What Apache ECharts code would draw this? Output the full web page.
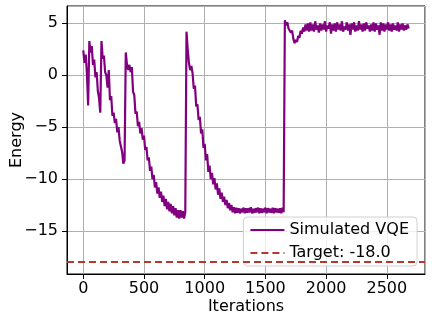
<!DOCTYPE html>
<html>
<head>
    <meta charset="utf-8">
    <title>VQE energy</title>
    <script src="https://cdn.jsdelivr.net/npm/echarts@6/dist/echarts.min.js"></script>
    <style>
        body { margin: 0; background: #fff; }
    </style>
</head>
<body>
<div id="main" style="width: 432px;height:322px;"></div>
<script type="text/javascript">
    // one value every ITER_STEP iterations, each run restarts after a jump
    var ITER_STEP = 10;
    var run1 = [2.4, 1.2, 2.0, 0.2, -2.9];
    var run2 = [3.3, 2.2, 2.8, 1.0, 1.5, -0.2, 0.3, -1.5, -2.2, -3.6];
    var run3 = [3.3, 1.6, 1.9, 0.3, 0.0, -1.2, 0.5, -2.4, -2.0, -3.9,
        -3.6, -4.6, -4.2, -5.5, -5.0, -6.3, -6.2, -7.4, -8.5, -8.2];
    var run4 = [2.2, 1.0, 0.5, 1.0, 0.3, 0.8, -1.6, -1.9, -3.7, -3.5,
        -4.9, -4.5, -5.6, -5.1, -6.2, -5.8, -7.2, -6.9, -8.2, -7.9,
        -9.2, -8.8, -10.0, -9.6, -10.8, -10.3, -11.4, -10.8, -11.8, -11.2,
        -12.2, -11.6, -12.6, -11.9, -12.9, -12.2, -13.1, -12.4, -13.3, -12.6,
        -13.5, -12.8, -13.7, -13.0, -13.8, -13.0, -13.7, -13.1, -13.8, -13.2];
    var run5 = [4.2, 2.5, 1.2, 0.5, 0.9, 0.2, -1.3, -1.0, -3.0, -2.8,
        -4.3, -4.0, -5.6, -5.2, -7.0, -6.6, -8.2, -7.6, -9.3, -8.7,
        -10.0, -9.4, -10.5, -9.9, -11.0, -10.4, -11.5, -10.9, -11.9, -11.3,
        -12.2, -11.7, -12.5, -12.0, -12.8, -12.3, -13.0, -12.5, -13.2, -12.7,
        -13.3, -12.75, -13.25, -12.8, -13.3, -12.85, -13.2, -12.75, -13.3, -12.8,
        -13.25, -12.8, -13.2, -12.7, -13.3, -12.85, -13.25, -12.8, -13.2, -12.75,
        -13.3, -12.8, -13.25, -12.85, -13.2, -12.75, -13.3, -12.8, -13.2, -12.85,
        -13.25, -12.75, -13.3, -12.8, -13.2, -12.85, -13.25, -12.8, -13.3, -12.75, -13.2];
    var run6 = [5.3, 4.8, 5.1, 4.5, 4.6, 4.1, 4.3, 3.5, 3.1, 3.4, 3.2,
        3.8, 3.6, 4.3, 4.0, 4.6, 4.2, 4.9, 4.3, 5.0, 4.2,
        5.1, 4.3, 4.9, 4.2, 5.2, 4.4, 4.8, 4.1, 5.0, 4.3,
        4.9, 4.4, 5.2, 4.2, 4.8, 4.5, 5.1, 4.0, 4.9, 4.3,
        5.0, 4.2, 5.1, 4.4, 4.9, 4.3, 5.2, 4.2, 4.7, 4.4,
        5.1, 4.3, 4.9, 3.9, 5.0, 4.4, 5.1, 4.2, 4.8, 4.3,
        5.2, 4.4, 4.9, 4.2, 5.0, 4.3, 5.1, 4.5, 4.8, 4.2,
        4.9, 4.3, 5.1, 4.2, 5.0, 4.4, 4.8, 3.9, 5.1, 4.3,
        5.0, 4.2, 4.9, 4.4, 5.1, 4.3, 4.9, 4.2, 5.0, 4.4,
        4.8, 4.3, 5.1, 4.2, 4.9, 4.4, 5.0, 4.3, 4.8, 4.4,
        4.9, 4.5];
    var TARGET = -18.0;

    var energy = run1.concat(run2, run3, run4, run5, run6);
    var points = energy.map(function (v, i) { return [i * ITER_STEP, v]; });

    var font = 'DejaVu Sans';
    var minus = function (v) { return String(v).replace('-', '\u2212'); };

    var myChart = echarts.init(document.getElementById('main'));
    var option = {
        animation: false,
        grid: {
            left: 67, right: 7, top: 6, bottom: 48,
            containLabel: false,
            outerBoundsMode: 'none',
            show: true, borderColor: '#000', borderWidth: 1
        },
        xAxis: {
            type: 'value',
            min: -134, max: 2814,
            splitNumber: 6,
            name: 'Iterations',
            nameLocation: 'middle',
            nameGap: 25,
            nameMoveOverlap: false,
            nameTextStyle: { fontFamily: font, fontSize: 16, color: '#000' },
            axisLine: { show: true, onZero: false, lineStyle: { color: '#000' } },
            axisTick: { show: true, length: 5, lineStyle: { color: '#000' } },
            axisLabel: {
                fontFamily: font, fontSize: 16, color: '#000', margin: 7,
                showMinLabel: false, showMaxLabel: false,
                formatter: minus
            },
            splitLine: { show: true, lineStyle: { color: '#b0b0b0', width: 1 } }
        },
        yAxis: {
            type: 'value',
            min: -19.14, max: 6.67,
            splitNumber: 5,
            name: 'Energy',
            nameLocation: 'middle',
            nameGap: 42,
            nameMoveOverlap: false,
            nameTextStyle: { fontFamily: font, fontSize: 16, color: '#000' },
            axisLine: { show: true, onZero: false, lineStyle: { color: '#000' } },
            axisTick: { show: true, length: 5, lineStyle: { color: '#000' } },
            axisLabel: {
                fontFamily: font, fontSize: 16, color: '#000', margin: 9,
                showMinLabel: false, showMaxLabel: false,
                formatter: minus
            },
            splitLine: { show: true, lineStyle: { color: '#b0b0b0', width: 1 } }
        },
        legend: {
            orient: 'vertical',
            right: 15, bottom: 56,
            itemWidth: 34, itemHeight: 12,
            itemGap: 7,
            padding: [5, 8, 5, 6],
            backgroundColor: 'rgba(255,255,255,0.8)',
            borderColor: '#d0d0d0', borderWidth: 1, borderRadius: 4,
            itemStyle: { opacity: 0 },
            textStyle: { fontFamily: font, fontSize: 16, color: '#000' },
            data: ['Simulated VQE', 'Target: -18.0']
        },
        series: [
            {
                name: 'Simulated VQE',
                type: 'line',
                data: points,
                showSymbol: false,
                lineStyle: { color: '#800080', width: 2.2 },
                itemStyle: { color: '#800080' },
                z: 3
            },
            {
                name: 'Target: -18.0',
                type: 'line',
                data: [],
                showSymbol: false,
                lineStyle: { color: '#b5372e', width: 2, type: [7, 4] },
                itemStyle: { color: '#b5372e' },
                markLine: {
                    silent: true,
                    symbol: 'none',
                    label: { show: false },
                    lineStyle: { color: '#b5372e', width: 2, type: [7, 4] },
                    data: [{ yAxis: TARGET }]
                },
                z: 2
            }
        ]
    };
    myChart.setOption(option);
</script>
</body>
</html>
